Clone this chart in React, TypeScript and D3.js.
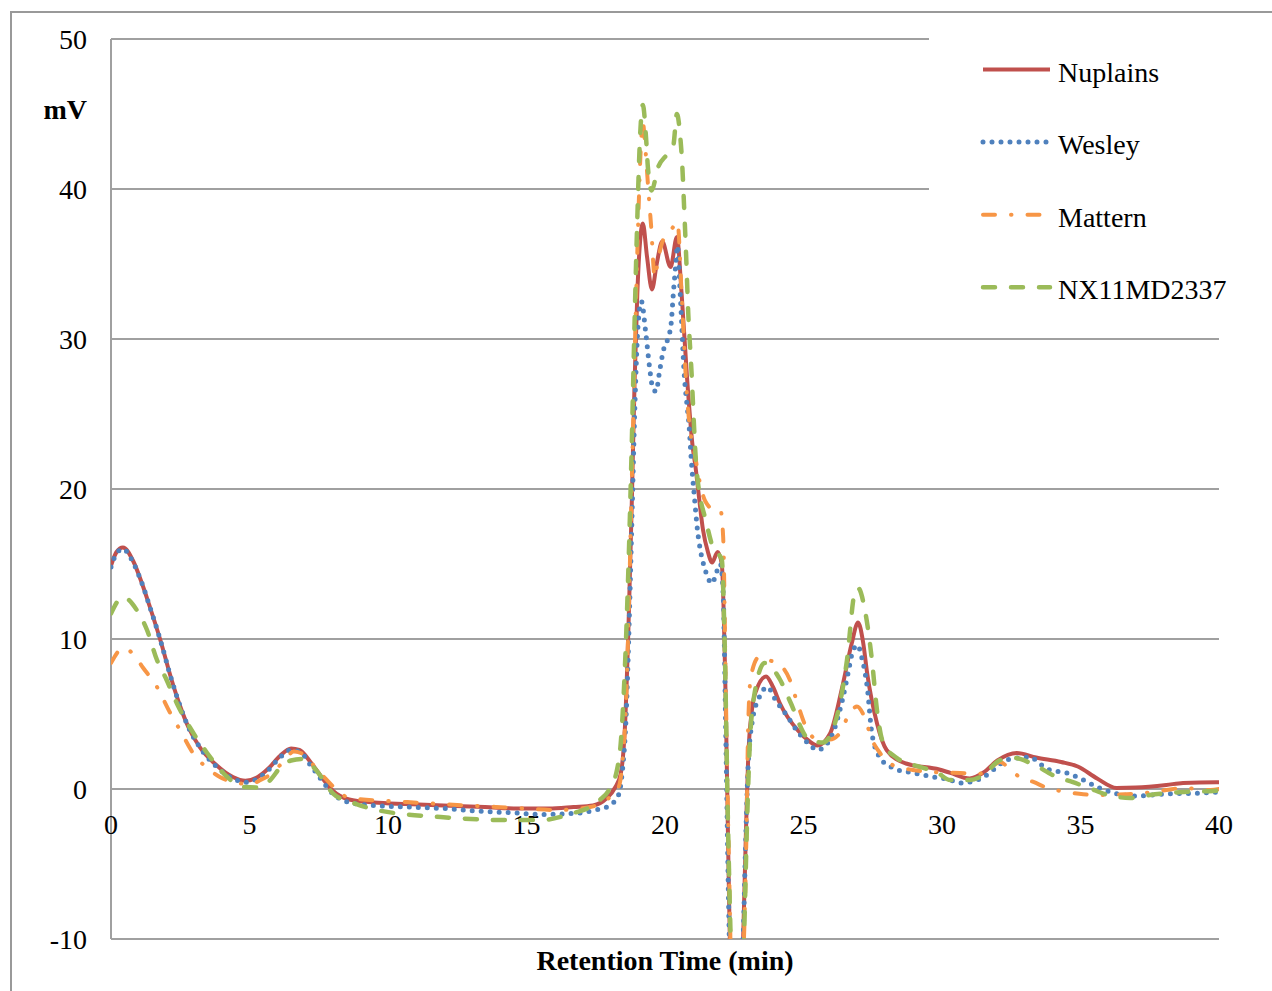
import React from 'react';
import * as d3 from 'd3';

// retention time (min), signal (mV)
const nuplains: [number, number][] = [
  [0, 14.9], [0.2, 15.8], [0.43, 16.1], [0.8, 15.2], [1.1, 13.8], [1.41, 12.1], [1.77, 10.0],
  [2.2, 7.2], [2.5, 5.5], [2.8, 4.1], [3.2, 2.8], [3.8, 1.6], [4.4, 0.8], [4.85, 0.55],
  [5.3, 0.8], [5.7, 1.4], [6.1, 2.2], [6.5, 2.7], [6.8, 2.6], [7.2, 1.8], [7.6, 0.8],
  [8.0, -0.1], [8.6, -0.7], [9.5, -0.9], [10.7, -1.0], [12, -1.1], [13.5, -1.2], [14.7, -1.3],
  [15.8, -1.3], [16.7, -1.2], [17.4, -1.1], [17.9, -0.6], [18.2, 0.1], [18.4, 1.0], [18.55, 4],
  [18.7, 12], [18.8, 19], [18.9, 27], [19.0, 33], [19.1, 36.5], [19.2, 37.7], [19.35, 35.5],
  [19.53, 33.3], [19.7, 35], [19.9, 36.5], [20.2, 34.8], [20.43, 36.8], [20.6, 33], [20.8, 27.3],
  [21.0, 22.8], [21.1, 21.5], [21.2, 19.9], [21.37, 17.3], [21.55, 15.8], [21.7, 15.1], [21.9, 15.8],
  [22.05, 15.0], [22.2, 5], [22.3, -6], [22.5, -20], [22.7, -14], [22.82, -10], [22.92, -3],
  [23.0, 1.9], [23.14, 5.3], [23.3, 6.6], [23.65, 7.5], [23.9, 6.8], [24.15, 5.7], [24.8, 3.9],
  [25.2, 3.2], [25.5, 2.9], [25.96, 3.7], [26.4, 6.8], [26.74, 9.7], [26.97, 11.1], [27.15, 9.8],
  [27.3, 7.7], [27.65, 4.4], [28.0, 2.6], [28.7, 1.7], [29.9, 1.3], [30.3, 1.07], [31.0, 0.7],
  [31.5, 1.1], [32.0, 1.9], [32.7, 2.4], [33.4, 2.1], [34.3, 1.8], [34.9, 1.5], [35.6, 0.7],
  [36.3, 0.07], [37.0, 0.1], [38.1, 0.27], [38.7, 0.4], [39.9, 0.45], [40, 0.45],
];

const wesley: [number, number][] = [
  [0, 14.8], [0.2, 15.7], [0.43, 16.0], [0.8, 15.1], [1.1, 13.8], [1.41, 12.1], [1.77, 10.0],
  [2.2, 7.2], [2.5, 5.5], [2.8, 4.1], [3.2, 2.8], [3.8, 1.5], [4.4, 0.7], [4.85, 0.45],
  [5.3, 0.7], [5.7, 1.3], [6.1, 2.1], [6.5, 2.6], [6.8, 2.5], [7.2, 1.6], [7.6, 0.6],
  [8.0, -0.3], [8.6, -0.9], [9.5, -1.1], [10.7, -1.2], [12, -1.3], [13.5, -1.5], [14.7, -1.6],
  [15.5, -1.7], [16.9, -1.6], [17.5, -1.4], [17.9, -1.2], [18.3, -0.5], [18.45, 1.0], [18.6, 5],
  [18.72, 12], [18.82, 19], [18.92, 26], [19.03, 31], [19.15, 32.5], [19.3, 30.5], [19.45, 28],
  [19.55, 26.8], [19.68, 26.5], [19.8, 27.8], [19.95, 29.3], [20.1, 30], [20.22, 31], [20.3, 33],
  [20.38, 34.8], [20.45, 36.2], [20.55, 33], [20.7, 27.5], [20.8, 25.5], [20.87, 24.2], [20.95, 21.9],
  [21.06, 19.5], [21.17, 17.3], [21.3, 15.7], [21.42, 14.8], [21.7, 13.7], [21.85, 14.4], [22.0, 15.0],
  [22.1, 13], [22.2, 3], [22.3, -8], [22.5, -20], [22.7, -14], [22.82, -10], [22.92, -3],
  [23.0, 1.5], [23.15, 4.5], [23.4, 6.1], [23.7, 6.8], [24.0, 5.9], [24.4, 4.9], [24.8, 3.8],
  [25.2, 3.0], [25.5, 2.6], [25.95, 3.3], [26.4, 5.9], [26.65, 8.1], [26.75, 9.0], [26.95, 9.6],
  [27.1, 8.8], [27.3, 6.8], [27.47, 3.7], [27.76, 2.1], [28.23, 1.4], [28.95, 1.07], [29.7, 0.8],
  [30.3, 0.6], [30.66, 0.4], [31.0, 0.47], [31.5, 0.8], [31.85, 1.27], [32.2, 1.8], [32.7, 2.07],
  [33.2, 2.13], [33.5, 1.73], [33.9, 1.27], [34.5, 1.07], [35.1, 0.6], [35.6, 0.13], [36.2, -0.27],
  [37.0, -0.47], [38.1, -0.33], [39.4, -0.27], [40, -0.2],
];

const mattern: [number, number][] = [
  [0, 8.4], [0.45, 9.4], [0.8, 9.0], [1.15, 8.1], [1.66, 6.8], [2.13, 5.1], [2.5, 3.9],
  [2.96, 2.4], [3.47, 1.4], [3.93, 0.8], [4.6, 0.4], [5.0, 0.3], [5.4, 0.6], [5.85, 1.1],
  [6.3, 2.0], [6.6, 2.5], [6.85, 2.4], [7.55, 1.07], [8.16, -0.07], [8.6, -0.6], [10.7, -0.87],
  [14.7, -1.27], [16.1, -1.4], [17.3, -1.2], [17.9, -0.7], [18.3, 0], [18.45, 1.5], [18.6, 6],
  [18.72, 14], [18.82, 22], [18.92, 30], [19.02, 37], [19.12, 42.5], [19.2, 44.4], [19.3, 42.5],
  [19.4, 39.9], [19.5, 37.5], [19.63, 34.1], [19.75, 35.3], [19.93, 36.6], [20.2, 37.2], [20.45, 37.8],
  [20.6, 33], [20.75, 27.5], [20.9, 24], [21.05, 22.6], [21.25, 20.5], [21.45, 19.2], [21.8, 18.6],
  [22.0, 18.6], [22.1, 16.8], [22.2, 6], [22.32, -6], [22.5, -20], [22.7, -14], [22.85, -10],
  [22.95, -2], [23.0, 4], [23.1, 7.5], [23.4, 8.8], [23.7, 8.6], [24.05, 8.4], [24.5, 7.3],
  [24.75, 5.9], [25.1, 4.1], [25.5, 3.3], [25.95, 3.3], [26.3, 3.7], [26.68, 5.1], [26.93, 5.5],
  [27.2, 4.8], [27.47, 3.3], [27.76, 2.4], [28.1, 1.7], [28.95, 1.27], [30.0, 1.1], [30.66, 1.07],
  [31.3, 1.0], [31.8, 1.5], [32.1, 1.8], [32.4, 1.4], [32.8, 0.8], [33.3, 0.47], [33.8, 0.07],
  [34.5, -0.2], [35.1, -0.35], [35.8, -0.4], [36.6, -0.35], [37.3, -0.27], [38.1, -0.07], [38.7, 0.07],
  [39.7, -0.07], [40, 0],
];

const nx11md2337: [number, number][] = [
  [0, 11.7], [0.43, 12.8], [0.94, 11.9], [1.3, 10.6], [1.66, 8.6], [2.0, 7.3], [2.38, 5.7],
  [2.85, 4.1], [3.47, 2.4], [4.2, 0.8], [4.76, 0.13], [5.38, 0.1], [5.7, 0.5], [6.2, 1.6],
  [6.5, 1.9], [6.93, 2.0], [7.4, 1.27], [8.0, -0.27], [8.74, -0.93], [9.6, -1.4], [11.9, -1.87],
  [14.3, -2.07], [15.5, -2.07], [16.7, -1.6], [17.3, -1.2], [17.65, -0.73], [18.0, 0], [18.27, 1.3],
  [18.4, 3], [18.55, 8], [18.7, 16], [18.8, 23], [18.9, 31], [19.0, 38], [19.1, 43.5],
  [19.2, 45.6], [19.32, 43.3], [19.38, 41.5], [19.52, 39.9], [19.74, 41.4], [20.07, 42.3], [20.3, 42.9],
  [20.43, 45.0], [20.55, 43.5], [20.62, 41.7], [20.69, 38.8], [20.76, 35.7], [20.84, 31.7], [20.94, 28.4],
  [21.14, 21.3], [21.5, 17.7], [21.73, 16.1], [22.05, 15.3], [22.15, 10], [22.27, -2], [22.4, -12],
  [22.55, -20], [22.7, -14], [22.85, -10], [22.95, -3], [23.05, 2.5], [23.2, 6], [23.6, 8.4],
  [24.15, 7.3], [24.5, 5.9], [25.2, 3.3], [25.7, 3.1], [26.2, 4.8], [26.57, 8.6], [26.85, 13.1],
  [26.97, 13.4], [27.22, 11.9], [27.47, 8.6], [27.65, 5.3], [27.87, 3.1], [28.37, 2.07], [29.2, 1.47],
  [29.8, 1.13], [30.3, 0.6], [31.0, 0.6], [31.5, 0.93], [32.1, 1.93], [32.6, 2.07], [33.2, 1.73],
  [34.15, 0.8], [34.7, 0.47], [35.3, 0.07], [36.0, -0.4], [36.8, -0.6], [37.5, -0.4], [38.7, -0.2],
  [39.8, -0.13], [40, -0.1],
];

const seriesNames = ['Nuplains', 'Wesley', 'Mattern', 'NX11MD2337'];
const yTicks = [-10, 0, 10, 20, 30, 40, 50];
const xTicks = [0, 5, 10, 15, 20, 25, 30, 35, 40];

const styles = [
  { color: '#C0504D', width: 4, dash: null, cap: 'butt' },
  { color: '#4F81BD', width: 5, dash: '0 9', cap: 'round' },
  { color: '#F79646', width: 4, dash: '12 16 0.5 16', cap: 'round' },
  { color: '#9BBB59', width: 4.5, dash: '12 16', cap: 'round' },
];

const font = '"Liberation Serif", "Times New Roman", serif';

export default function App() {
  const width = 1272;
  const height = 991;
  const left = 111, right = 1219, top = 39, bottom = 939;

  const x = d3.scaleLinear().domain([0, 40]).range([left, right]);
  const y = d3.scaleLinear().domain([-10, 50]).range([bottom, top]);

  const line = d3.line<[number, number]>()
    .x((d) => x(d[0]))
    .y((d) => y(d[1]))
    .curve(d3.curveMonotoneX);

  const data = [nuplains, wesley, mattern, nx11md2337];

  return (
    <svg width={width} height={height} style={{ position: 'absolute', left: 0, top: 0, background: '#fff' }}
      fontFamily={font}>
      <defs>
        <clipPath id="plot">
          <rect x={left} y={top} width={right - left} height={bottom - top} />
        </clipPath>
      </defs>
      <rect x={0} y={0} width={width} height={height} fill="#fff" />
      <rect x={11} y={12} width={width + 20} height={height + 20} fill="none" stroke="#999" strokeWidth={2} />

      {yTicks.map((t) => (
        <g key={t}>
          <line x1={left} x2={right} y1={y(t)} y2={y(t)} stroke="#A0A0A0" strokeWidth={2} />
          <text x={87} y={y(t) + 10} fontSize={28} textAnchor="end" fill="#000">{t}</text>
        </g>
      ))}
      <line x1={left} x2={left} y1={top} y2={bottom} stroke="#A0A0A0" strokeWidth={2} />

      {xTicks.map((t) => (
        <text key={t} x={x(t)} y={834} fontSize={28} textAnchor="middle" fill="#000">{t}</text>
      ))}

      <g clipPath="url(#plot)">
        {data.map((d, i) => (
          <path key={seriesNames[i]} d={line(d) || ''} fill="none" stroke={styles[i].color}
            strokeWidth={styles[i].width} strokeDasharray={styles[i].dash || undefined}
            strokeLinecap={styles[i].cap as any} strokeLinejoin="round" />
        ))}
      </g>

      <text x={87} y={119} fontSize={28} fontWeight="bold" textAnchor="end" fill="#000">mV</text>
      <text x={(left + right) / 2} y={970} fontSize={28} fontWeight="bold" textAnchor="middle" fill="#000">
        Retention Time (min)
      </text>

      <g>
        <rect x={929} y={26} width={340} height={296} fill="#fff" />
        {seriesNames.map((name, i) => {
          const ly = 69.5 + i * 72.6;
          return (
            <g key={name}>
              <line x1={983} x2={1050} y1={ly} y2={ly} stroke={styles[i].color}
                strokeWidth={styles[i].width} strokeDasharray={styles[i].dash || undefined}
                strokeLinecap={styles[i].cap as any} />
              <text x={1058} y={ly + 12} fontSize={28} fill="#000">{name}</text>
            </g>
          );
        })}
      </g>
    </svg>
  );
}
